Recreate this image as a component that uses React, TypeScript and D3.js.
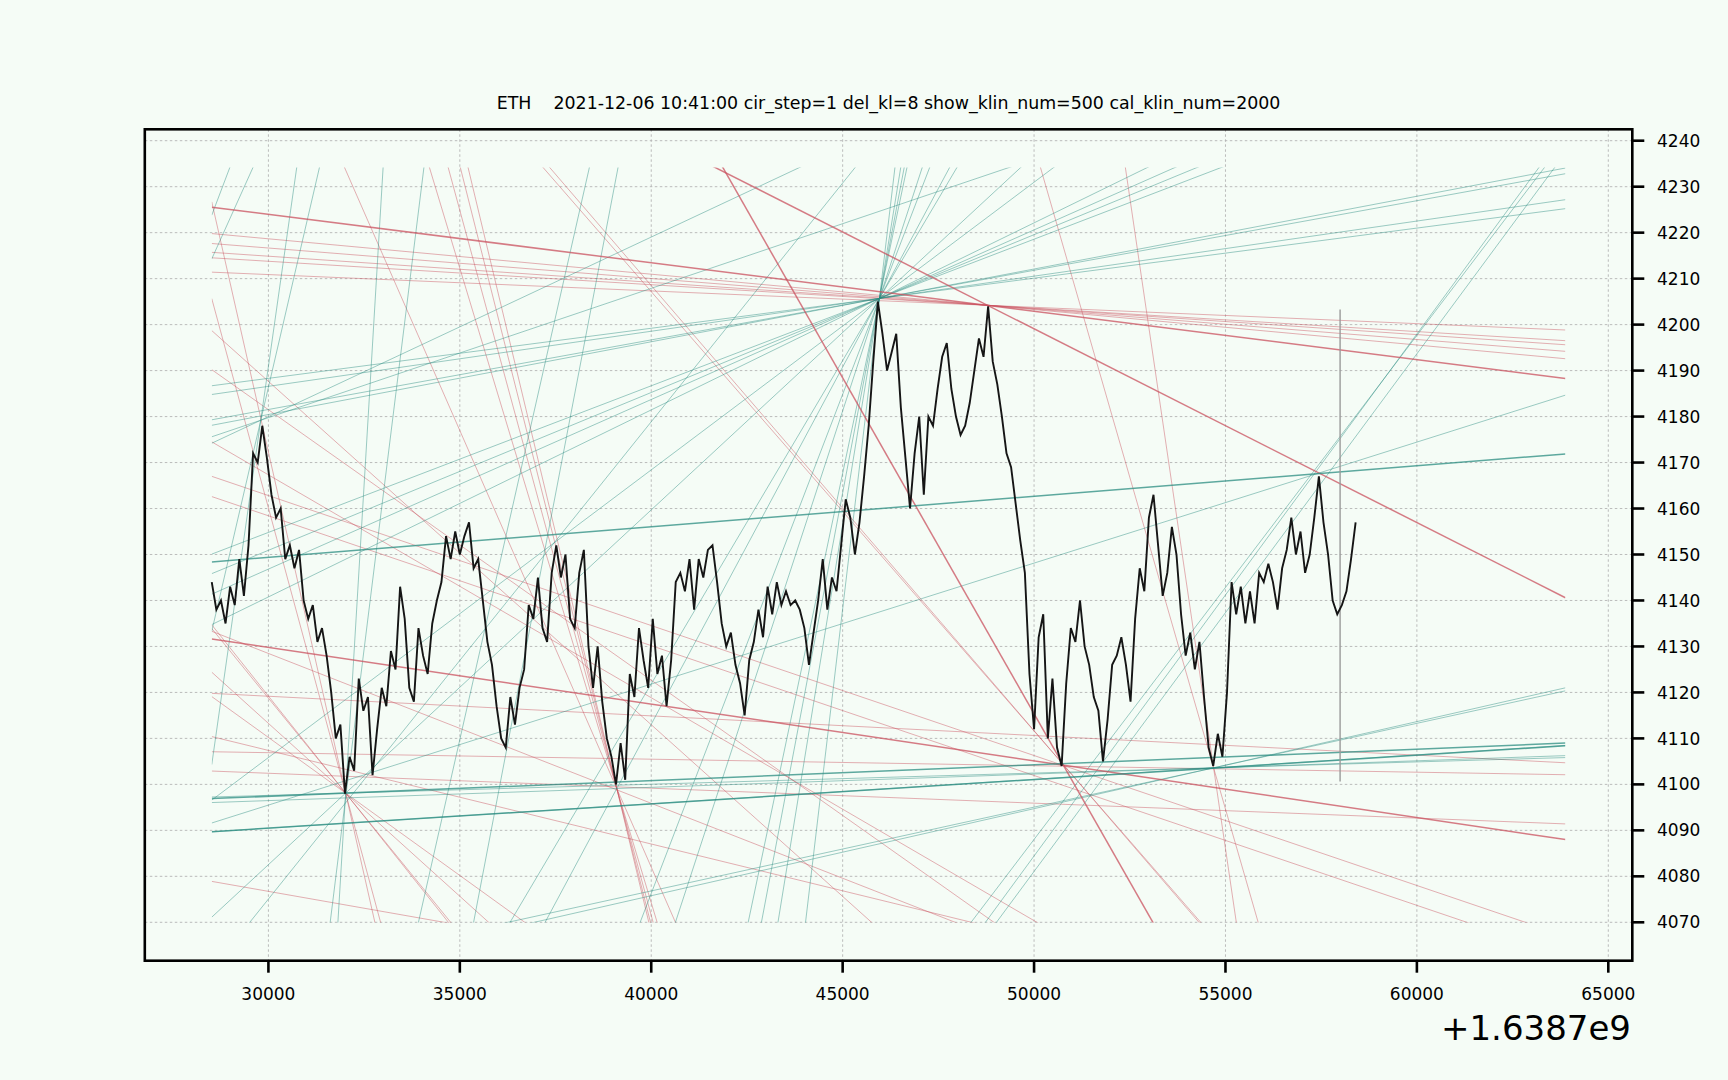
import React from 'react';
import * as d3 from 'd3';

const TITLE = 'ETH    2021-12-06 10:41:00 cir_step=1 del_kl=8 show_klin_num=500 cal_klin_num=2000';
const OFFSET_LABEL = '+1.6387e9';

const T_START = 28520;
const T_STEP = 120;
const priceZig = [
  4144,4138,4140,4135,4143,4139,4149,4141,4152,4172,4170,4178,4171,4163,4158,4160,4149,4152,4147,4151,4140,4136,4139,4131,4134,4128,4120,4110,4113,4098,4106,4103,4123,4116,4119,4102,4112,4121,4117,4129,4125,4143,4136,
  4121,4118,4134,4128,4124,4135,4140,4144,4154,4149,4155,4150,4154,4157,4147,4149,4140,4131,4126,4117,4110,4108,4119,4113,4121,4125,4139,4136,4145,4134,4131,4146,4152,4145,4150,4136,4134,4146,4151,4130,4121,4130,
  4118,4110,4106,4100,4109,4101,4124,4119,4134,4127,4121,4136,4124,4128,4117,4127,4144,4146,4142,4149,4138,4149,4145,4151,4152,4144,4135,4130,4133,4126,4122,4115,4127,4131,4138,4132,4143,4137,4144,4139,4142,4139,
  4140,4138,4134,4126,4133,4140,4149,4138,4145,4142,4152,4162,4158,4150,4157,4167,4178,4192,4205,4198,4190,4194,4198,4182,4171,4160,4172,4180,4163,4180,4178,4186,4193,4196,4186,4180,4176,4178,4183,4190,4197,4193,4204,
  4192,4187,4180,4172,4169,4161,4153,4146,4124,4112,4132,4137,4110,4123,4108,4104,4122,4134,4131,4140,4130,4126,4119,4116,4105,4114,4126,4128,4132,4126,4118,4136,4147,4142,4158,4163,4152,4141,4146,4156,4150,4137,
  4128,4133,4125,4131,4119,4108,4104,4111,4106,4120,4144,4137,4143,4135,4142,4135,4146,4144,4148,4144,4138,4147,4151,4158,4150,4155,4146,4150,4158,4167,4157,4150,4140,4137,4139,4142,4149,4157,
];

const LINE_T_START = 28520;
const LINE_T_END = 63880;
const LINE_P_LOW = 4069.97;
const LINE_P_HIGH = 4234.18;

const xTicks = [30000, 35000, 40000, 45000, 50000, 55000, 60000, 65000];
const yTicks = [4070, 4080, 4090, 4100, 4110, 4120, 4130, 4140, 4150, 4160, 4170, 4180, 4190, 4200, 4210, 4220, 4230, 4240];

// trend lines, each given by two points [t1, p1, t2, p2]
const redLines = [
  [28520, 4219.8, 48784, 4204.2],
  [28520, 4217.64, 48784, 4204.2],
  [28520, 4215.72, 48784, 4204.2],
  [28520, 4214.53, 48784, 4204.2],
  [28520, 4211.41, 48784, 4204.2],
  [28520, 4226.7, 32017, 4098.1],
  [28520, 4205.66, 32017, 4098.1],
  [28520, 4134.7, 32017, 4098.1],
  [28520, 4133.9, 32017, 4098.1],
  [28520, 4124.4, 32017, 4098.1],
  [28520, 4119.1, 32017, 4098.1],
  [31988, 4234.18, 39100, 4099.1],
  [34206, 4234.18, 39100, 4099.1],
  [34696, 4234.18, 39100, 4099.1],
  [35013, 4234.18, 39100, 4099.1],
  [35215, 4234.18, 39100, 4099.1],
  [37174, 4234.18, 50743, 4104.5],
  [37347, 4234.18, 50743, 4104.5],
  [50167, 4234.18, 54690, 4103.6],
  [52385, 4234.18, 54690, 4103.6],
  [28520, 4190.2, 48957, 4069.97],
  [28520, 4174.5, 50081, 4069.97],
  [28520, 4167.0, 62843, 4069.97],
  [28520, 4162.6, 61316, 4069.97],
  [28520, 4133.3, 47949, 4069.97],
  [28520, 4198.7, 45759, 4069.97],
  [28520, 4119.8, 63880, 4104.7],
  [28520, 4107.1, 63880, 4102.1],
  [28520, 4110.4, 48381, 4069.97],
  [28520, 4102.9, 63880, 4091.4],
  [28520, 4078.9, 34610, 4069.97],
];
const redStrongLines = [
  [28520, 4225.55, 48784, 4204.2],
  [41668, 4234.18, 48784, 4204.2],
  [28520, 4131.61, 63880, 4088.0],
  [41870, 4234.18, 50743, 4104.5],
];
const tealLines = [
  [28520, 4186.7, 45961, 4205.7],
  [28520, 4184.8, 45961, 4205.7],
  [28520, 4179.3, 45961, 4205.7],
  [28520, 4178.1, 45961, 4205.7],
  [28520, 4175.6, 29800, 4179.2],
  [28520, 4174.2, 29800, 4179.2],
  [28520, 4133.3, 29800, 4179.2],
  [28520, 4104.3, 29800, 4179.2],
  [28520, 4223.8, 28992, 4234.18],
  [28520, 4214.3, 29597, 4234.18],
  [39709, 4069.97, 45961, 4205.7],
  [40631, 4069.97, 45961, 4205.7],
  [42532, 4069.97, 45961, 4205.7],
  [42878, 4069.97, 45961, 4205.7],
  [43310, 4069.97, 45961, 4205.7],
  [44030, 4069.97, 45961, 4205.7],
  [36310, 4069.97, 45961, 4205.7],
  [32017, 4098.1, 45961, 4205.7],
  [39100, 4099.1, 45961, 4205.7],
  [50513, 4234.18, 45961, 4205.7],
  [52962, 4234.18, 45961, 4205.7],
  [53682, 4234.18, 45961, 4205.7],
  [54258, 4234.18, 45961, 4205.7],
  [54892, 4234.18, 45961, 4205.7],
  [28520, 4091.6, 57398, 4167.6],
  [48727, 4069.97, 63189, 4234.18],
  [48352, 4069.97, 63333, 4234.18],
  [49015, 4069.97, 63600, 4234.18],
  [54690, 4103.6, 63880, 4121.0],
  [54690, 4103.6, 63880, 4120.35],
  [28520, 4089.68, 54690, 4103.6],
  [32017, 4098.1, 54690, 4103.6],
  [39100, 4099.1, 54690, 4103.6],
  [29510, 4069.97, 45327, 4234.18],
  [31613, 4069.97, 34062, 4234.18],
  [31815, 4069.97, 32996, 4234.18],
  [33918, 4069.97, 38384, 4234.18],
  [35359, 4069.97, 39133, 4234.18],
];
const tealStrongLines = [
  [28520, 4148.39, 63880, 4171.87],
  [32017, 4098.1, 50743, 4104.5],
  [28520, 4089.7, 63880, 4108.4],
];

const markerLine = [57994, 4100.6, 4203.3];

const W = 1728;
const H = 1080;
const PL = 144.8, PR = 1632.3, PT = 129.3, PB = 960.7;

export default function App() {
  const x = d3.scaleLinear().domain([26771, 65627]).range([PL, PR]);
  const y = d3.scaleLinear().domain([4061.65, 4242.48]).range([PB, PT]);

  const seg = (l: number[]) => {
    const [t1, p1, t2, p2] = l;
    const k = (p2 - p1) / (t2 - t1);
    const pa = p1 + k * (LINE_T_START - t1);
    const pb = p1 + k * (LINE_T_END - t1);
    return { x1: x(LINE_T_START), y1: y(pa), x2: x(LINE_T_END), y2: y(pb) };
  };

  const priceLine = d3
    .line<number>()
    .x((_, i) => x(T_START + i * T_STEP))
    .y((d) => y(d))(priceZig) as string;

  const clipX = x(LINE_T_START);
  const clipW = x(LINE_T_END) - clipX;
  const clipY = y(LINE_P_HIGH);
  const clipH = y(LINE_P_LOW) - clipY;

  const red = '#c9505e';
  const teal = '#2a8c80';
  const font = 'DejaVu Sans, sans-serif';

  return (
    <svg width={W} height={H} style={{ position: 'absolute', left: 0, top: 0, background: '#f5fcf6' }}>
      <defs>
        <clipPath id="lineclip">
          <rect x={clipX} y={clipY} width={clipW} height={clipH} />
        </clipPath>
      </defs>
      <rect x={0} y={0} width={W} height={H} fill="#f5fcf6" />
      {xTicks.map((t) => (
        <line key={'gx' + t} x1={x(t)} x2={x(t)} y1={PT} y2={PB} stroke="#b4b4b4" strokeWidth={0.9} strokeDasharray="2.5,2.5" />
      ))}
      {yTicks.map((p) => (
        <line key={'gy' + p} x1={PL} x2={PR} y1={y(p)} y2={y(p)} stroke="#b4b4b4" strokeWidth={0.9} strokeDasharray="2.5,2.5" />
      ))}
      <g clipPath="url(#lineclip)">
        {redLines.map((l, i) => {
          const s = seg(l);
          return <line key={'r' + i} {...s} stroke={red} strokeOpacity={0.45} strokeWidth={1} />;
        })}
        {tealLines.map((l, i) => {
          const s = seg(l);
          return <line key={'t' + i} {...s} stroke={teal} strokeOpacity={0.45} strokeWidth={1} />;
        })}
        {redStrongLines.map((l, i) => {
          const s = seg(l);
          return <line key={'rs' + i} {...s} stroke={red} strokeOpacity={0.75} strokeWidth={1.5} />;
        })}
        {tealStrongLines.map((l, i) => {
          const s = seg(l);
          return <line key={'ts' + i} {...s} stroke={teal} strokeOpacity={0.75} strokeWidth={1.5} />;
        })}
      </g>
      <line x1={x(markerLine[0])} x2={x(markerLine[0])} y1={y(markerLine[1])} y2={y(markerLine[2])} stroke="#9a9a9a" strokeWidth={1.4} />
      <path d={priceLine} fill="none" stroke="#151515" strokeWidth={1.9} strokeLinejoin="miter" />
      <rect x={PL} y={PT} width={PR - PL} height={PB - PT} fill="none" stroke="#000" strokeWidth={2.6} />
      {xTicks.map((t) => (
        <g key={'xt' + t}>
          <line x1={x(t)} x2={x(t)} y1={PB} y2={PB + 12} stroke="#000" strokeWidth={2.6} />
          <text x={x(t)} y={999.5} textAnchor="middle" fontFamily={font} fontSize={17} fill="#000">{t}</text>
        </g>
      ))}
      {yTicks.map((p) => (
        <g key={'yt' + p}>
          <line x1={PR} x2={PR + 12} y1={y(p)} y2={y(p)} stroke="#000" strokeWidth={2.6} />
          <text x={1657} y={y(p)} dy="0.36em" textAnchor="start" fontFamily={font} fontSize={17} fill="#000">{p}</text>
        </g>
      ))}
      <text x={(PL + PR) / 2} y={109} textAnchor="middle" fontFamily={font} fontSize={17.4} fill="#000" style={{ whiteSpace: 'pre' }}>{TITLE}</text>
      <text x={1631} y={1040} textAnchor="end" fontFamily={font} fontSize={34} fill="#000">{OFFSET_LABEL}</text>
    </svg>
  );
}
